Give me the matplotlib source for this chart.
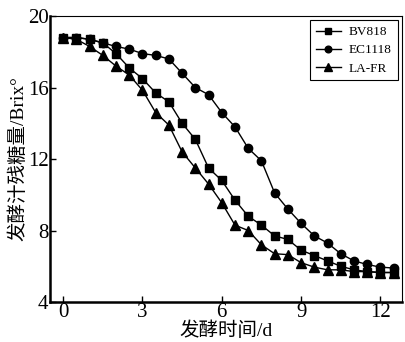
import matplotlib.pyplot as plt

plt.rcParams['font.family'] = ['Liberation Serif', 'Noto Sans CJK SC']

days = [0, 0.5, 1, 1.5, 2, 2.5, 3, 3.5, 4, 4.5, 5, 5.5, 6, 6.5,
        7, 7.5, 8, 8.5, 9, 9.5, 10, 10.5, 11, 11.5, 12, 12.5]
bv818 = [18.8, 18.8, 18.7, 18.5, 17.9, 17.1, 16.5, 15.7, 15.2, 14.0, 13.1, 11.5, 10.8, 9.7,
         8.8, 8.3, 7.7, 7.5, 6.9, 6.6, 6.3, 6.0, 5.8, 5.7, 5.65, 5.65]
ec1118 = [18.8, 18.8, 18.7, 18.5, 18.3, 18.15, 17.9, 17.8, 17.6, 16.8, 16.0, 15.6, 14.6, 13.8,
          12.6, 11.9, 10.1, 9.2, 8.4, 7.7, 7.3, 6.7, 6.3, 6.1, 5.95, 5.9]
lafr = [18.8, 18.7, 18.3, 17.8, 17.2, 16.7, 15.85, 14.6, 13.9, 12.4, 11.5, 10.6, 9.55, 8.3,
        8.0, 7.2, 6.7, 6.65, 6.2, 5.95, 5.8, 5.8, 5.7, 5.7, 5.65, 5.65]

fig = plt.figure(figsize=(4.06, 3.42), dpi=100)
ax = fig.add_axes([0.123, 0.117, 0.866, 0.836])

ax.plot(days, bv818, color='black', marker='s', markersize=5.5, linewidth=1, label='BV818')
ax.plot(days, ec1118, color='black', marker='o', markersize=6, linewidth=1, label='EC1118')
ax.plot(days, lafr, color='black', marker='^', markersize=6.5, linewidth=1, label='LA-FR')

ax.set_xlim(-0.5, 12.8)
ax.set_ylim(4, 20)
ax.set_xticks([0, 3, 6, 9, 12])
ax.set_yticks([4, 8, 12, 16, 20])
ax.tick_params(direction='in', labelsize=15, length=4, width=1, pad=1)

for s in ['left', 'bottom']:
    ax.spines[s].set_linewidth(1.8)
for s in ['top', 'right']:
    ax.spines[s].set_linewidth(0.8)

ax.set_xlabel('发酵时间/d', fontsize=14, labelpad=-1)
ax.set_ylabel('发酵汁残糖量/Brix°', fontsize=14, labelpad=0)

leg = ax.legend(loc='upper right', fontsize=9.5, fancybox=False, framealpha=1,
                edgecolor='black', handlelength=1.9, borderpad=0.45, labelspacing=0.45,
                handletextpad=0.6, borderaxespad=0.3, markerscale=0.8)
leg.get_frame().set_linewidth(0.8)

fig.savefig('out.png', dpi=100)
